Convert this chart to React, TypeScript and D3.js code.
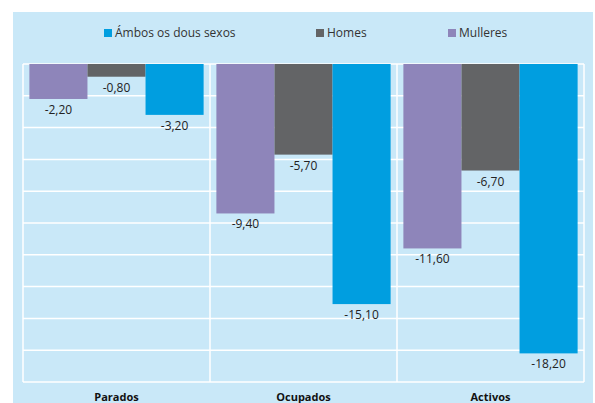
import { useEffect, useRef } from "react";
import * as d3 from "d3";

const categories = ["Parados", "Ocupados", "Activos"];
const seriesNames = ["Mulleres", "Homes", "Ámbos os dous sexos"];
const mulleres = [-2.2, -9.4, -11.6];
const homes = [-0.8, -5.7, -6.7];
const ambos = [-3.2, -15.1, -18.2];
const yTicks = [0, -2, -4, -6, -8, -10, -12, -14, -16, -18, -20];
const legendOrder = ["Ámbos os dous sexos", "Homes", "Mulleres"];

const colors: Record<string, string> = {
  "Mulleres": "#8e85ba",
  "Homes": "#636466",
  "Ámbos os dous sexos": "#009ee0",
};

const App = () => {
  const svgRef = useRef<SVGSVGElement>(null);

  useEffect(() => {
    const W = 595, H = 403;
    const plot = { left: 23, right: 584, top: 64, bottom: 382 };
    const svg = d3.select(svgRef.current);
    svg.selectAll("*").remove();
    svg.attr("width", W).attr("height", H);

    const font = "'Open Sans', 'DejaVu Sans', sans-serif";

    svg.append("rect")
      .attr("x", 13).attr("y", 12)
      .attr("width", 580).attr("height", H - 12)
      .attr("fill", "#c9e8f8");

    const x = d3.scaleBand().domain(categories).range([plot.left, plot.right]).padding(0);
    const inner = d3.scaleBand().domain(seriesNames)
      .range([0, x.bandwidth()]).paddingOuter(0.11).paddingInner(0);
    const y = d3.scaleLinear().domain([0, -20]).range([plot.top, plot.bottom]);

    // grid
    const grid = svg.append("g").attr("stroke", "#ffffff").attr("stroke-width", 1.5);
    grid.selectAll("line.h").data(yTicks).enter().append("line")
      .attr("x1", plot.left).attr("x2", plot.right)
      .attr("y1", d => y(d)).attr("y2", d => y(d));
    const dividers = [...categories.map(c => x(c)!), plot.right];
    grid.selectAll("line.v").data(dividers).enter().append("line")
      .attr("x1", d => d).attr("x2", d => d)
      .attr("y1", plot.top).attr("y2", plot.bottom);

    const values: Record<string, number[]> = {
      "Mulleres": mulleres,
      "Homes": homes,
      "Ámbos os dous sexos": ambos,
    };

    const bars = seriesNames.flatMap(s =>
      categories.map((c, i) => ({ s, c, v: values[s][i] }))
    );

    svg.append("g").selectAll("rect").data(bars).enter().append("rect")
      .attr("x", d => x(d.c)! + inner(d.s)!)
      .attr("y", y(0))
      .attr("width", inner.bandwidth())
      .attr("height", d => y(d.v) - y(0))
      .attr("fill", d => colors[d.s]);

    svg.append("g").selectAll("text").data(bars).enter().append("text")
      .attr("x", d => x(d.c)! + inner(d.s)! + inner.bandwidth() / 2)
      .attr("y", d => y(d.v) + 15)
      .attr("text-anchor", "middle")
      .style("font-family", font)
      .style("font-size", "12px")
      .attr("fill", "#222")
      .text(d => d.v.toFixed(2).replace(".", ","));

    svg.append("g").selectAll("text").data(categories).enter().append("text")
      .attr("x", d => x(d)! + x.bandwidth() / 2)
      .attr("y", 401)
      .attr("text-anchor", "middle")
      .style("font-family", font)
      .style("font-size", "11px")
      .style("font-weight", "bold")
      .attr("fill", "#111")
      .text(d => d);

    const legendX = [104, 316, 448];
    const lg = svg.append("g").selectAll("g").data(legendOrder).enter().append("g")
      .attr("transform", (d, i) => `translate(${legendX[i]},29)`);
    lg.append("rect").attr("width", 8).attr("height", 8).attr("fill", d => colors[d]);
    lg.append("text")
      .attr("x", 11).attr("y", 8)
      .style("font-family", font)
      .style("font-size", "12px")
      .attr("fill", "#333")
      .text(d => d);
  }, []);

  return (
    <div style={{ position: "absolute", left: 0, top: 0 }}>
      <svg ref={svgRef} style={{ display: "block" }}></svg>
    </div>
  );
};

export default App;
